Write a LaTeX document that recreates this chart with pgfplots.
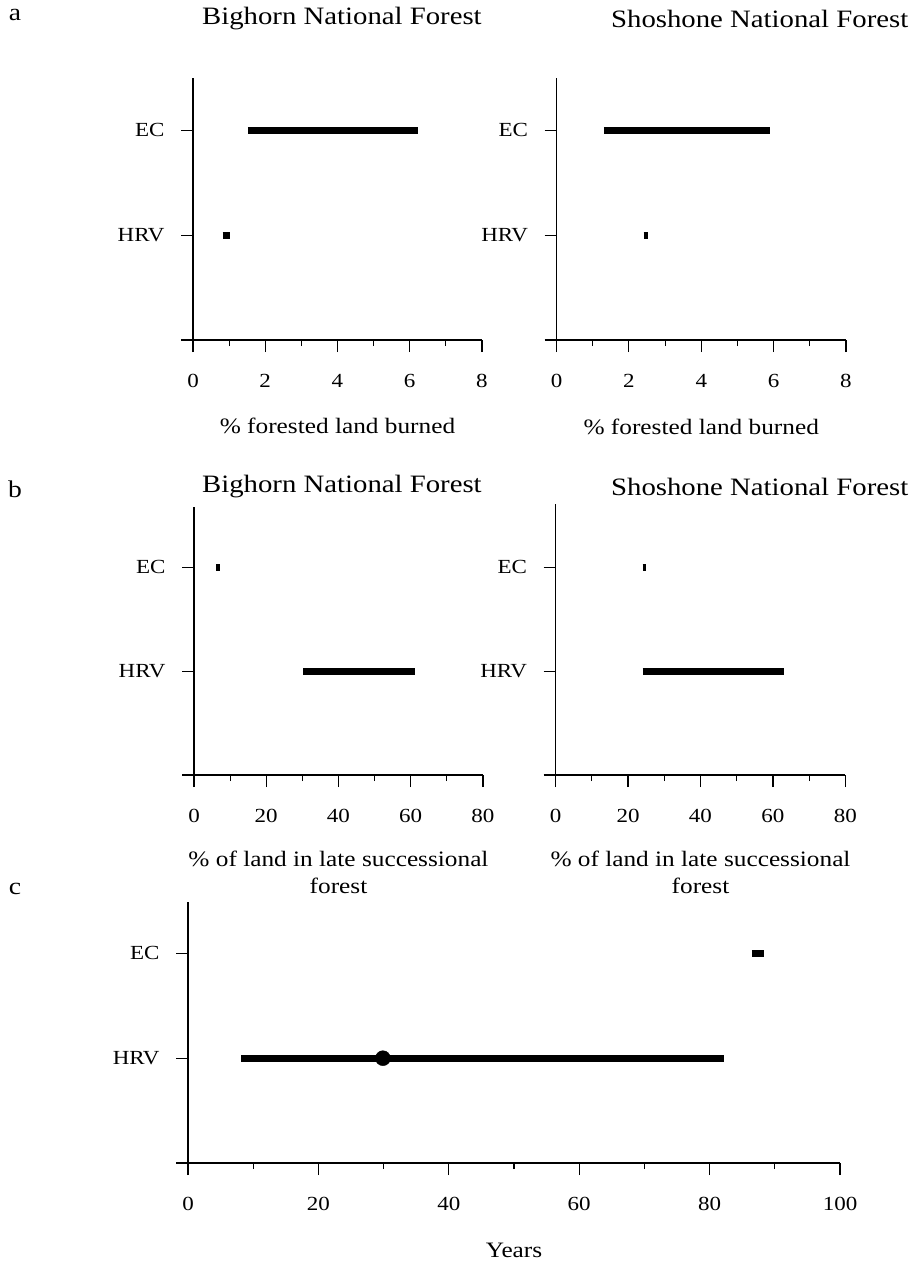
\documentclass[border=0pt]{standalone}
\usepackage{pgfplots}
\pgfplotsset{compat=1.18}
\usepackage{fontspec}
\setmainfont{Liberation Serif}[FakeStretch=1.15]

\pgfplotsset{
  panel/.style={
    scale only axis,
    anchor=south west,
    axis x line*=bottom,
    axis y line*=left,
    xmin=0, ymin=0,
    x axis line style={shorten <=-12pt, line width=1.1pt},
    y axis line style={line width=1.1pt},
    tick align=outside,
    major tick length=12pt,
    minor tick length=6pt,
    minor x tick num=1,
    every tick/.style={black, line width=1.1pt},
    ytick={1,2},
    yticklabels={HRV,EC},
    tick label style={font=\fontsize{20}{24}\selectfont},
    xticklabel style={yshift=-19pt},
    yticklabel style={xshift=-13pt},
    /pgf/number format/assume math mode=true,
    label style={font=\fontsize{22}{27}\selectfont},
    clip=false,
  },
  rng/.style={black, line width=7pt, line cap=butt, mark=none},
}

\begin{document}
\begin{tikzpicture}
\path[use as bounding box] (0pt,0pt) rectangle (916pt,-1262pt);

% panel letters and titles
\node[font=\fontsize{24}{28}\selectfont, anchor=center] at (15pt,-15pt) {a};
\node[font=\fontsize{24}{28}\selectfont, anchor=center] at (15pt,-489pt) {b};
\node[font=\fontsize{24}{28}\selectfont, anchor=center] at (15pt,-889pt) {c};
\node[font=\fontsize{25}{30}\selectfont, anchor=west, inner sep=0pt] at (202pt,-19pt) {Bighorn National Forest};
\node[font=\fontsize{25}{30}\selectfont, anchor=west, inner sep=0pt] at (611pt,-19pt) {Shoshone National Forest};
\node[font=\fontsize{25}{30}\selectfont, anchor=west, inner sep=0pt] at (202pt,-487pt) {Bighorn National Forest};
\node[font=\fontsize{25}{30}\selectfont, anchor=west, inner sep=0pt] at (611pt,-487pt) {Shoshone National Forest};

% ---- a, Bighorn
\begin{axis}[panel, at={(193pt,-340pt)}, width=289pt, height=262pt,
  xmax=8, ymax=2.50, xtick={0,2,4,6,8},
  xlabel={\% forested land burned},
  xlabel style={at={(axis description cs:0.5,0)}, anchor=center, yshift=-86pt}]
\addplot[rng] coordinates {(1.52,2) (6.23,2)};
\addplot[rng] coordinates {(0.82,1) (1.03,1)};
\end{axis}

% ---- a, Shoshone
\begin{axis}[panel, at={(556.5pt,-340pt)}, width=289.5pt, height=262pt,
  xmax=8, ymax=2.50, xtick={0,2,4,6,8},
  xlabel={\% forested land burned},
  xlabel style={at={(axis description cs:0.5,0)}, anchor=center, yshift=-87pt}]
\addplot[rng] coordinates {(1.31,2) (5.90,2)};
\addplot[rng] coordinates {(2.41,1) (2.53,1)};
\end{axis}

% ---- b, Bighorn
\begin{axis}[panel, at={(194pt,-775pt)}, width=289pt, height=268pt,
  xmax=80, ymax=2.58, xtick={0,20,40,60,80},
  xlabel={\% of land in late successional\\forest},
  xlabel style={align=center, at={(axis description cs:0.5,0)}, anchor=center, yshift=-97pt}]
\addplot[rng] coordinates {(6.2,2) (7.3,2)};
\addplot[rng] coordinates {(30.2,1) (61.2,1)};
\end{axis}

% ---- b, Shoshone
\begin{axis}[panel, at={(555.5pt,-775pt)}, width=290pt, height=271pt,
  xmax=80, ymax=2.61, xtick={0,20,40,60,80},
  xlabel={\% of land in late successional\\forest},
  xlabel style={align=center, at={(axis description cs:0.5,0)}, anchor=center, yshift=-97pt}]
\addplot[rng] coordinates {(24.0,2) (25.0,2)};
\addplot[rng] coordinates {(24.0,1) (63.0,1)};
\end{axis}

% ---- c
\begin{axis}[panel, at={(188pt,-1163pt)}, width=652pt, height=261pt,
  xmax=100, ymax=2.49, xtick={0,20,40,60,80,100},
  xlabel={Years},
  xlabel style={at={(axis description cs:0.5,0)}, anchor=center, yshift=-87pt}]
\addplot[rng] coordinates {(86.5,2) (88.3,2)};
\addplot[rng] coordinates {(8.2,1) (82.2,1)};
\addplot[only marks, mark=*, mark size=7.5pt, black] coordinates {(29.9,1)};
\end{axis}
\end{tikzpicture}
\end{document}
